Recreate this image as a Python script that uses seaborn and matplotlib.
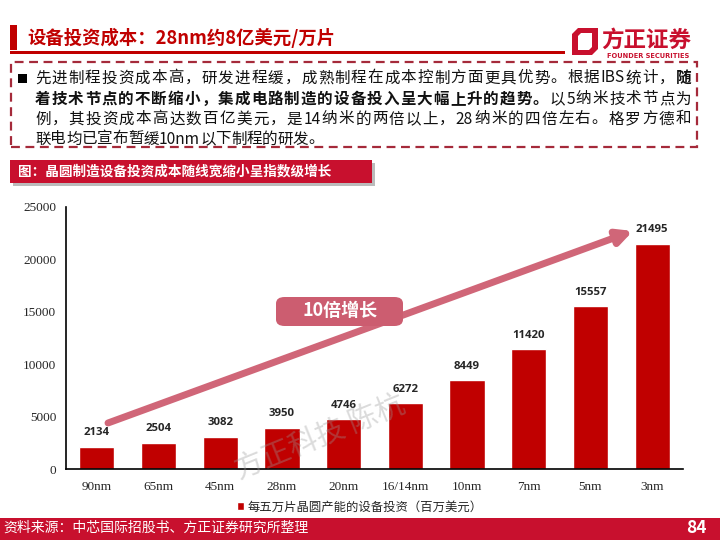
import re
import matplotlib.pyplot as plt
import matplotlib.patches as mpatches
import pandas as pd
import seaborn as sns

# ---------------------------------------------------------------------
# data
# ---------------------------------------------------------------------
NODES = ["90nm", "65nm", "45nm", "28nm", "20nm", "16/14nm", "10nm", "7nm", "5nm", "3nm"]
INVEST = [2134, 2504, 3082, 3950, 4746, 6272, 8449, 11420, 15557, 21495]
Y_TICKS = [0, 5000, 10000, 15000, 20000, 25000]

TITLE = "设备投资成本：28nm约8亿美元/万片"
SUBTITLE = "图：晶圆制造设备投资成本随线宽缩小呈指数级增长"
LEGEND_LABEL = "每五万片晶圆产能的设备投资（百万美元）"
GROWTH_LABEL = "10倍增长"
SOURCE = "资料来源：中芯国际招股书、方正证券研究所整理"
PAGE_NO = "84"
WATERMARK = "方正科技 陈杭"
BODY_LINES = [
    [("先进制程投资成本高，研发进程缓，成熟制程在成本控制方面更具优势。根据IBS统计，", False), ("随", True)],
    [("着技术节点的不断缩小，集成电路制造的设备投入呈大幅上升的趋势。", True), ("以5纳米技术节点为", False)],
    [("例，其投资成本高达数百亿美元，是14纳米的两倍以上，28纳米的四倍左右。格罗方德和", False)],
    [("联电均已宣布暂缓10nm以下制程的研发。", False)],
]

RED = "#C00000"
PINK = "#CC5D70"
W, H = 720, 540

sns.set_style("white")
plt.rcParams["font.family"] = ["Noto Sans CJK SC", "DejaVu Sans"]

fig = plt.figure(figsize=(7.2, 5.4), dpi=100)
tf = fig.transFigure


def P(x, y):
    # pixel position (top-left origin) -> figure fraction
    return x / W, 1 - y / H


# ---------------------------------------------------------------------
# header
# ---------------------------------------------------------------------
fig.patches.append(mpatches.Rectangle(P(10, 50), 7 / W, 25 / H, transform=tf, color=RED, lw=0))
fig.text(*P(27, 38), TITLE, color=RED, fontsize=13.2, fontweight="bold", va="center", transform=tf)
fig.patches.append(mpatches.Rectangle(P(10, 54), 555 / W, 2.5 / H, transform=tf, color=RED, lw=0))

# logo
outer = [P(572, 34), P(578, 28), P(598, 28), P(598, 49), P(592, 55), P(572, 55)]
fig.patches.append(mpatches.Polygon(outer, closed=True, transform=tf, color="#C8102E", lw=0))
inner = [P(578, 36), P(581, 33), P(592, 33), P(592, 47), P(589, 50), P(578, 50)]
fig.patches.append(mpatches.Polygon(inner, closed=True, transform=tf, color="white", lw=0))
fig.text(*P(601, 40), "方正证券", color="#C8102E", fontsize=16.2, fontweight="bold", va="center", transform=tf)
fig.text(*P(648, 56), "FOUNDER SECURITIES", color="#C8102E", fontsize=4.8, fontweight="bold",
         ha="center", va="center", transform=tf, family=["DejaVu Sans"])

# dashed text box
fig.patches.append(mpatches.Rectangle(P(11, 147), 686 / W, 85 / H, transform=tf, fill=False,
                                      ec="#A52A3A", lw=1.6, ls=(0, (4, 2.5))))
fig.patches.append(mpatches.Rectangle(P(18, 83), 9 / W, 9 / H, transform=tf, color="black", lw=0))

renderer = fig.canvas.get_renderer()
line_y = [78, 99, 119, 139]
left, right = 35, 691
for i, runs in enumerate(BODY_LINES):
    # latin words stay together, CJK characters are spread for justification
    tokens = [(tok, b) for text, b in runs for tok in re.findall(r"[A-Za-z0-9]+|.", text)]
    arts = []
    for tok, b in tokens:
        t = fig.text(0, 0, tok, fontsize=11.2, fontweight="bold" if b else "normal",
                     va="center", transform=tf, color="#111111")
        arts.append(t)
    widths = [a.get_window_extent(renderer).width for a in arts]
    total = sum(widths)
    justify = i < len(BODY_LINES) - 1
    gap = (right - left - total) / (len(arts) - 1) if justify else 0
    x = left
    for a, w in zip(arts, widths):
        a.set_position(P(x, line_y[i]))
        x += w + gap

# sub title banner
fig.patches.append(mpatches.Rectangle(P(13, 186), 362 / W, 23 / H, transform=tf, color="#BBBBBB", lw=0))
fig.patches.append(mpatches.Rectangle(P(10, 183), 362 / W, 23 / H, transform=tf, color="#C8102E", lw=0))
fig.text(*P(18, 171.5), SUBTITLE, color="white", fontsize=9.8, fontweight="bold", va="center", transform=tf)

# ---------------------------------------------------------------------
# bar chart
# ---------------------------------------------------------------------
df = pd.DataFrame({"node": NODES, "invest": INVEST})
ax = fig.add_axes([66 / W, 1 - 469 / H, 617 / W, 262 / H])
sns.barplot(data=df, x="node", y="invest", color=RED, width=0.57, saturation=1,
            label=LEGEND_LABEL, ax=ax, zorder=2)
ax.set_ylim(0, 25000)
ax.set_yticks(Y_TICKS)
ax.set_xlabel("")
ax.set_ylabel("")
sns.despine(ax=ax)
for s in ["left", "bottom"]:
    ax.spines[s].set_color("black")
    ax.spines[s].set_linewidth(1.2)
ax.tick_params(axis="y", length=4, width=1, color="black", pad=3)
ax.tick_params(axis="x", length=0, pad=9)
for lab in ax.get_xticklabels() + ax.get_yticklabels():
    lab.set_family("Liberation Serif")
    lab.set_fontsize(9.5)
ax.bar_label(ax.containers[0], labels=[str(v) for v in INVEST], padding=6,
             fontsize=8.2, fontweight="bold", family=["Open Sans", "DejaVu Sans"])

ax.legend(loc="center", bbox_to_anchor=P(360, 507), bbox_transform=tf, frameon=False,
          handlelength=0.6, handleheight=0.6, handletextpad=0.3, fontsize=8.9)

# growth arrow and label
arrow = mpatches.FancyArrowPatch(P(108, 423), P(633, 231), transform=tf, arrowstyle="-|>",
                                 mutation_scale=22, lw=5, color="#D06678", shrinkA=0, shrinkB=0)
fig.patches.append(arrow)
box = mpatches.FancyBboxPatch(P(276, 326), 127 / W, 29 / H, transform=tf,
                              boxstyle="round,pad=0,rounding_size=0.012", color=PINK, lw=0)
fig.patches.append(box)
fig.text(*P(340, 311), GROWTH_LABEL, color="white", fontsize=13, fontweight="bold",
         ha="center", va="center", transform=tf)

# watermark
fig.text(*P(320, 438), WATERMARK, color="#999999", alpha=0.35, fontsize=21, rotation=22,
         ha="center", va="center", transform=tf)

# ---------------------------------------------------------------------
# footer
# ---------------------------------------------------------------------
fig.patches.append(mpatches.Rectangle(P(0, 540), 1, 22 / H, transform=tf, color="#C8102E", lw=0))
fig.text(*P(3, 528), SOURCE, color="white", fontsize=10, va="center", transform=tf)
fig.text(*P(707, 528), PAGE_NO, color="white", fontsize=12.5, fontweight="bold",
         ha="right", va="center", transform=tf)

fig.savefig("out.png", dpi=100)
